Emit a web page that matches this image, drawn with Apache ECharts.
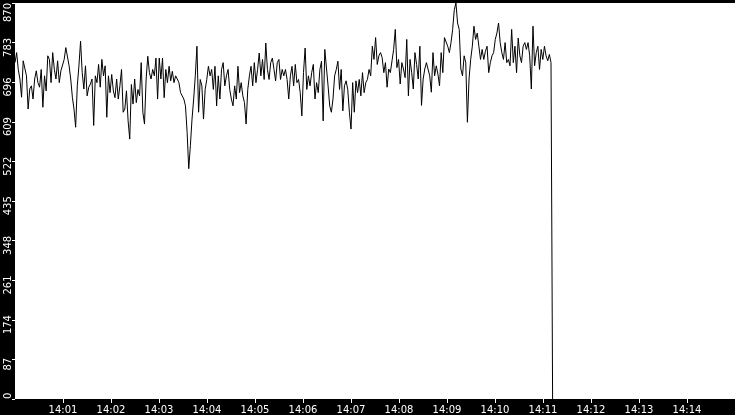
<!DOCTYPE html>
<html><head><meta charset="utf-8">
<script src="https://cdn.jsdelivr.net/npm/echarts@6/dist/echarts.min.js"></script>
<style>html,body{margin:0;padding:0;background:#000;overflow:hidden}#chart{width:735px;height:415px;}</style>
</head><body><div id="chart"></div>
<script>
// time range of the recorded series and of the axis
const seriesStart = [14, 0, 0];
const seriesEnd = [14, 11, 10];
const dropTimes = [[14, 11, 11], [14, 11, 12]];
const axisStart = [14, 0, 0];
const axisEnd = [14, 15, 0];
const yMax = 870;
const yStep = 87;

// values, left to right
const part1 = [739,761,724,703,663,743,739,710,637,681,688,659,703,721,695,685,724,641,710,677,754,746,695,761,724,703,743,695,721,717,746,772,770,732,703,663,637,597,688,732,786,717,681,732,666,685,692,703,601,710,695,735,685,746,710,732];
const part2 = [619,710,673,713,677,662,703,659,688,724,630,637,677,611,571,691,648,703,651,680,666,739,630,604,703,753,717,703,724,710,749,659,749,703,749,662,724,695,731,699,720,695,710,703,695,673,670,659,644,586,506,557,615,659,710];
const part3 = [775,630,702,688,615,680,702,731,710,724,680,731,644,710,659,724,739,688,710,724,680,659,644,688,659,731,673,695,666,651,604,680,710,731,688,739,695,724,760,710,746,702,782,724,702,739,749,724,699,739,746,702,724,710,724];
const part4 = [702,659,710,731,688,735,695,702,673,622,717,771,680,710,688,717,735,659,695,673,724,742,611,768,768,688,644,630,659,710,724,742,680,724,633,688,699,680,630,593,695,630,699,673,702,666,717,673,695,702,724,710,775,746];
const part5 = [794,735,754,761,750,717,739,685,725,717,743,768,812,728,746,692,739,725,706,790,666,746,717,681,761,735,703,775,645,703,725,739,739,710,674,761,710,732,714,688,761,717,794,790,775,761,783,812,855,870,826,812,725,710,754,739];
const part6 = [608,703,746,775,819,790,804,775,746,768,746,764,775,717,739,754,761,790,804,826,783,761,746,783,739,746,732,812,739,775,717,793,754,739,775,783,768,783,754,681,819,732,761,775,724,768,746,775,754,743,757,739];
const dropValues = [380, 0];

const values = [].concat(part1, part2, part3, part4, part5, part6);

function t(hms) { return new Date(2024, 0, 1, hms[0], hms[1], hms[2]).getTime(); }
const t0 = t(seriesStart), t1 = t(seriesEnd);
const step = (t1 - t0) / (values.length - 1);
const data = values.map((v, i) => [t0 + i * step, v])
  .concat(dropValues.map((v, i) => [t(dropTimes[i]), v]));

const chart = echarts.init(document.getElementById('chart'), null, {renderer: 'canvas'});
chart.setOption({
  backgroundColor: '#000',
  animation: false,
  grid: {left: 15, right: 0, top: 0, bottom: 16, show: true, backgroundColor: '#fff', borderWidth: 0, containLabel: false},
  xAxis: {
    type: 'value',
    min: t(axisStart), max: t(axisEnd), interval: 60000,
    axisLine: {show: false},
    splitLine: {show: false},
    axisTick: {show: true, length: 4, lineStyle: {color: '#fff', width: 1}},
    axisLabel: {
      color: '#fff', fontSize: 10, fontFamily: 'DejaVu Sans', margin: 6,
      showMinLabel: false, showMaxLabel: false,
      formatter: v => echarts.time.format(v, '{HH}:{mm}', false)
    }
  },
  yAxis: {
    type: 'value', min: 0, max: yMax, interval: yStep,
    axisLine: {show: false},
    splitLine: {show: false},
    axisTick: {show: true, length: 3, lineStyle: {color: '#fff', width: 1}},
    axisLabel: {
      color: '#fff', fontSize: 10, fontFamily: 'DejaVu Sans', margin: 2, rotate: 90,
      alignMinLabel: 'left', alignMaxLabel: 'right',
      formatter: v => (v === 0 || v === yMax) ? String(v) : v + '\u00a0\u00a0\u00a0'
    }
  },
  series: [{
    type: 'line', data: data, showSymbol: false, symbol: 'none',
    lineStyle: {color: '#000', width: 1}, silent: true
  }]
});
</script></body></html>
